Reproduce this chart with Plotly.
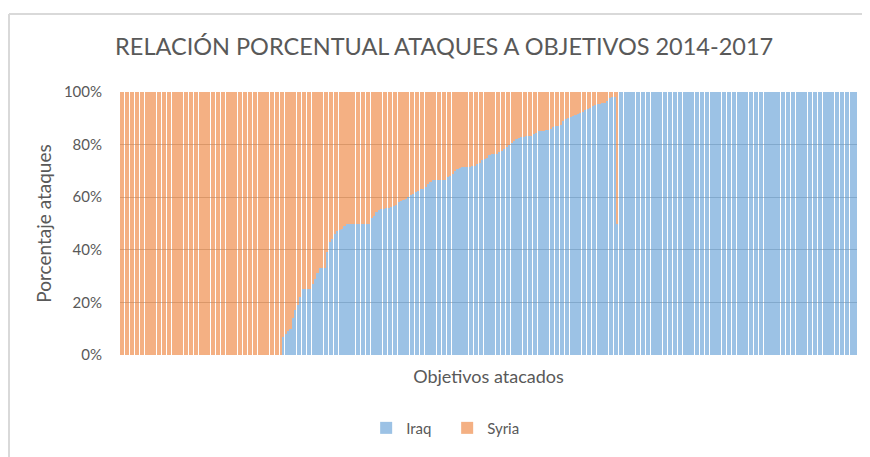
import plotly.graph_objects as go

# Categories: 300 attacked targets (no visible labels)
objetivos = list(range(1, 301))

# Iraq share (%) per target, sorted ascending as in the chart
iraq_zero = [0.0] * 66
iraq_mid = [
    7, 8, 9, 10, 14, 17, 19, 22, 25, 25, 25, 25, 27, 29, 31, 33, 33, 33,
    39, 43, 44, 46, 47, 47.5, 48, 49,
    50, 50, 50, 50, 50, 50, 50, 50, 50, 50,
    52, 53, 54.5, 55, 55.5, 55.6, 56, 56,
    56.3, 56.5, 57, 58, 58.5, 59, 59.4, 60, 61, 61.3, 62, 62.5, 63, 63.2,
    64, 65, 65.7, 66.7, 66.7, 66.7, 66.7, 66.7, 66.7, 67.5, 68, 69, 70,
    70.7, 71, 71.4, 71.4, 71.4, 71.4, 72, 72, 72.5, 73, 74, 74.4, 75, 76,
    76.3, 76.3, 76.5, 77, 77.6, 78.5, 79, 80, 80.5, 81.3, 82, 82.5, 83,
    83, 83.3, 83.3, 83.3, 84, 84.5, 85, 85, 85.3, 85.7, 85.7, 86, 86.7,
    87, 87, 87.5, 88.9, 89.7, 90, 90.5, 91, 91.4, 91.7, 92, 92.3, 93,
    93.5, 94, 94.5, 95, 95.5, 95.5, 95.7, 96, 96.5, 97.6, 98, 98.2, 50,
]
iraq_full = [100.0] * 97
iraq = iraq_zero + iraq_mid + iraq_full
syria = [100 - v for v in iraq]

y_ticks = [0, 20, 40, 60, 80, 100]
y_tick_labels = ["0%", "20%", "40%", "60%", "80%", "100%"]

COL_IRAQ = "#5B9BD5"
COL_SYRIA = "#ED7D31"
TXT = "#595959"
FONT = "Lato"

fig = go.Figure()
fig.add_trace(go.Bar(x=objetivos, y=iraq, name="Iraq",
                     marker=dict(color=COL_IRAQ, line=dict(width=0)), opacity=0.6))
fig.add_trace(go.Bar(x=objetivos, y=syria, name="Syria",
                     marker=dict(color=COL_SYRIA, line=dict(width=0)), opacity=0.6))

fig.update_layout(
    width=862, height=449,
    barmode="stack", bargap=0.35,
    paper_bgcolor="white", plot_bgcolor="white",
    margin=dict(l=112, r=13, t=84, b=99),
    font=dict(family=FONT, color=TXT),
    title=dict(text="RELACIÓN PORCENTUAL ATAQUES A OBJETIVOS 2014-2017",
               x=0.506, xref="container", xanchor="center",
               y=0.913, yref="container", yanchor="middle",
               font=dict(size=23.5, color=TXT, family=FONT)),
    legend=dict(orientation="h", x=0.334, xanchor="left", y=-0.278, yanchor="middle",
                font=dict(size=15, color=TXT), itemwidth=30,
                entrywidth=36, entrywidthmode="pixels",
                traceorder="normal"),
    xaxis=dict(type="category", showticklabels=False, showgrid=False, zeroline=False,
               showline=False, ticks="",
               title=dict(text="Objetivos atacados", font=dict(size=18, color=TXT), standoff=15)),
    yaxis=dict(range=[0, 100], tickmode="array", tickvals=y_ticks, ticktext=y_tick_labels,
               showgrid=True, gridcolor="#BFBFBF", gridwidth=1, zeroline=False,
               showline=False, ticklabelstandoff=17, tickfont=dict(size=15, color=TXT),
               title=dict(text="Porcentaje ataques", font=dict(size=19, color=TXT), standoff=7)),
    shapes=[
        dict(type="line", xref="paper", yref="paper", x0=-0.1506, x1=1.03, y0=1.297, y1=1.297,
             line=dict(color="#D9D9D9", width=2)),
        dict(type="line", xref="paper", yref="paper", x0=-0.1506, x1=-0.1506, y0=1.297, y1=-0.4,
             line=dict(color="#D9D9D9", width=2)),
    ],
)

fig.write_html("out.html")
